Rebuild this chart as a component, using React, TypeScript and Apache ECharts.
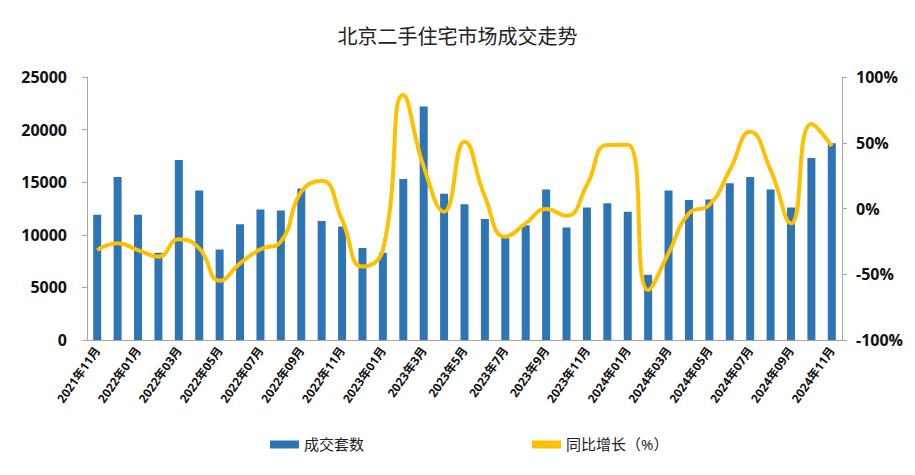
import React, { useEffect, useRef } from "react";
import * as echarts from "echarts";

const categories = [
  "2021年11月", "2021年12月", "2022年01月", "2022年02月", "2022年03月", "2022年04月",
  "2022年05月", "2022年06月", "2022年07月", "2022年08月", "2022年09月", "2022年10月",
  "2022年11月", "2022年12月", "2023年01月", "2023年2月", "2023年3月", "2023年4月",
  "2023年5月", "2023年6月", "2023年7月", "2023年8月", "2023年9月", "2023年10月",
  "2023年11月", "2023年12月", "2024年01月", "2024年02月", "2024年03月", "2024年04月",
  "2024年05月", "2024年06月", "2024年07月", "2024年08月", "2024年09月", "2024年10月",
  "2024年11月",
];

const deals = [
  11900, 15500, 11900, 8300, 17100, 14200, 8600, 11000, 12400, 12300, 14400, 11300,
  10800, 8750, 8300, 15300, 22200, 13900, 12900, 11500, 9700, 10900, 14300, 10700,
  12600, 13000, 12200, 6200, 14200, 13300, 13350, 14900, 15500, 14300, 12600, 17300,
  18700,
];

const yoy = [
  -31.6, -26.5, -31.6, -36.6, -23.4, -30.3, -54.9, -41.7, -31, -25.2, 12.8, 21.1,
  -8.7, -44.2, -31.6, 86.3, 31.8, -2.4, 50.8, 9, -21.4, -11.3, -0.4, -5.5,
  17.9, 48.3, 48.5, -62, -34, -3.7, 2.7, 29.3, 58.4, 29.3, -11.3, 64.3, 47.5,
];

const leftTicks = [0, 5000, 10000, 15000, 20000, 25000];
const rightTicks = [-100, -50, 0, 50, 100];

const FONT = "'Open Sans', 'Noto Sans CJK SC', sans-serif";

export default function App() {
  const ref = useRef<HTMLDivElement>(null);
  useEffect(() => {
    if (!ref.current) return;
    const chart = echarts.init(ref.current, undefined, { renderer: "svg" });
    chart.setOption({
      animation: false,
      textStyle: { fontFamily: FONT },
      title: {
        text: "北京二手住宅市场成交走势",
        left: "center",
        top: 21,
        textStyle: { fontSize: 20, fontWeight: "normal", color: "#222", fontFamily: FONT },
      },
      legend: {
        bottom: 18,
        left: 265,
        itemGap: 168,
        itemWidth: 29,
        itemHeight: 8,
        textStyle: { fontSize: 15, color: "#222", fontFamily: FONT },
        data: [
          { name: "成交套数", icon: "rect" },
          { name: "同比增长（%）", icon: "rect", itemStyle: { color: "#FFC000" } },
        ],
      },
      grid: { left: 87, right: 73, top: 77, bottom: 135 },
      xAxis: {
        type: "category",
        data: categories,
        axisLine: { lineStyle: { color: "#A6A6A6" } },
        axisTick: { show: false },
        axisLabel: {
          interval: 1,
          rotate: 55,
          fontSize: 12,
          fontWeight: "bold",
          color: "#111",
          margin: 8,
          fontFamily: FONT,
        },
      },
      yAxis: [
        {
          type: "value",
          min: leftTicks[0],
          max: leftTicks[leftTicks.length - 1],
          interval: 5000,
          axisLine: { show: true, lineStyle: { color: "#A6A6A6" } },
          axisTick: { show: true, length: 5, lineStyle: { color: "#A6A6A6" } },
          splitLine: { show: false },
          axisLabel: {
            fontSize: 16,
            fontWeight: "bold",
            color: "#111",
            margin: 20,
            formatter: (v: number) => String(v),
            fontFamily: FONT,
          },
        },
        {
          type: "value",
          min: rightTicks[0],
          max: rightTicks[rightTicks.length - 1],
          interval: 50,
          axisLine: { show: true, lineStyle: { color: "#A6A6A6" } },
          axisTick: { show: true, length: 5, lineStyle: { color: "#A6A6A6" } },
          splitLine: { show: false },
          axisLabel: {
            fontSize: 16,
            fontWeight: "bold",
            color: "#111",
            margin: 14,
            formatter: (v: number) => v + "%",
            fontFamily: FONT,
          },
        },
      ],
      series: [
        {
          name: "成交套数",
          type: "bar",
          data: deals,
          barWidth: 8,
          itemStyle: { color: "#2E75B6" },
        },
        {
          name: "同比增长（%）",
          type: "line",
          yAxisIndex: 1,
          data: yoy,
          smooth: 0.5,
          symbol: "none",
          lineStyle: { color: "#FFC000", width: 4 },
          itemStyle: { color: "#FFC000" },
        },
      ],
    });
    return () => chart.dispose();
  }, []);
  return <div ref={ref} style={{ width: 915, height: 475, position: "absolute", left: 0, top: 0 }} />;
}
